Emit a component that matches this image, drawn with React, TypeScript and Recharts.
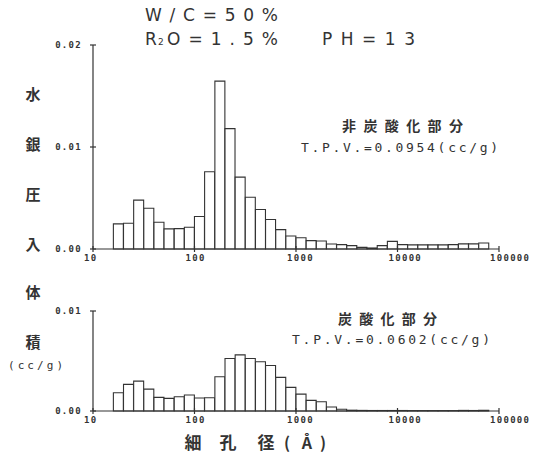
import { BarChart, Bar, XAxis, YAxis } from 'recharts'

// pore diameter bin centres (Å), 0.1-decade bins from ~16 Å to ~80000 Å
const poreSize = [
  17.8, 22.4, 28.2, 35.5, 44.7, 56.2, 70.8, 89.1, 112, 141, 178, 224, 282, 355, 447, 562, 708, 891,
  1122, 1413, 1778, 2239, 2818, 3548, 4467, 5623, 7079, 8913, 11220, 14125, 17783, 22387, 28184,
  35481, 44668, 56234, 70795,
]

// 非炭酸化部分 (cc/g)
const nonCarbonated = [
  0.00246, 0.00252, 0.00479, 0.004, 0.00262, 0.00197, 0.002, 0.00213, 0.00318, 0.00757, 0.01646,
  0.0118, 0.00705, 0.00508, 0.00387, 0.00289, 0.0019, 0.00128, 0.00111, 0.00082, 0.00079, 0.00049,
  0.00043, 0.00033, 0.00016, 0.0001, 0.00033, 0.00075, 0.00043, 0.0004, 0.0004, 0.0004, 0.0004,
  0.00043, 0.0005, 0.0005, 0.00059,
]

// 炭酸化部分 (cc/g)
const carbonated = [
  0.00183, 0.00266, 0.00299, 0.00219, 0.00136, 0.00126, 0.00143, 0.0016, 0.0013, 0.00133, 0.00342,
  0.00525, 0.00561, 0.00525, 0.00492, 0.00455, 0.00336, 0.00236, 0.00169, 0.00106, 0.00093, 0.0004,
  0.00017, 0.00008, 0.00006, 0.00005, 0.00005, 0.00005, 0.00005, 0.00004, 0.00004, 0.00004, 0.00004,
  0.00004, 0.00006, 0.00005, 0.00007,
]

const xTicks = [10, 100, 1000, 10000, 100000]
const topTicks = [0, 0.01, 0.02]
const bottomTicks = [0, 0.01]

const topData = poreSize.map((d, i) => ({ d, v: nonCarbonated[i] }))
const bottomData = poreSize.map((d, i) => ({ d, v: carbonated[i] }))

const INK = '#333'
const MONO = '"DejaVu Sans Mono", monospace'
const CJK = '"Noto Sans CJK JP", sans-serif'

function XTick({ x, y, payload }: any) {
  return (
    <g>
      <line x1={x} x2={x} y1={y - 3} y2={y + 3} stroke={INK} strokeWidth={1.2} />
      <text x={x - 9} y={y + 12} fontFamily={MONO} fontWeight="bold" fontSize={9} letterSpacing={1.3} fill={INK}>
        {payload.value}
      </text>
    </g>
  )
}

function YTick({ x, y, payload }: any) {
  return (
    <g>
      <line x1={x - 3} x2={x + 3} y1={y} y2={y} stroke={INK} strokeWidth={1.2} />
      <text x={x - 11} y={y + 3} textAnchor="end" fontFamily={MONO} fontWeight="bold" fontSize={9} letterSpacing={1.3} fill={INK}>
        {payload.value.toFixed(2)}
      </text>
    </g>
  )
}

function Histogram({ data, height, top, yMax, yTicks }: any) {
  return (
    <BarChart
      width={538}
      height={height}
      data={data}
      margin={{ top, right: 39, bottom: 1, left: 33 }}
      barCategoryGap={0}
      barGap={0}
    >
      <XAxis
        dataKey="d"
        type="number"
        scale="log"
        domain={[10, 100000]}
        ticks={xTicks}
        height={20}
        tickSize={0}
        tickMargin={0}
        tickLine={false}
        axisLine={{ stroke: INK, strokeWidth: 1.2 }}
        tick={<XTick />}
        interval={0}
        allowDataOverflow
      />
      <YAxis
        type="number"
        domain={[0, yMax]}
        ticks={yTicks}
        width={60}
        tickSize={0}
        tickMargin={0}
        tickLine={false}
        axisLine={{ stroke: INK, strokeWidth: 1.2 }}
        tick={<YTick />}
        interval={0}
      />
      <Bar dataKey="v" fill="#fff" stroke={INK} strokeWidth={1.1} isAnimationActive={false} />
    </BarChart>
  )
}

function Label({ x, y, w, size, family, weight, anchor, children }: any) {
  return (
    <text
      x={x}
      y={y}
      textLength={w}
      lengthAdjust={w ? 'spacing' : undefined}
      fontSize={size}
      fontFamily={family}
      fontWeight={weight || 'normal'}
      textAnchor={anchor || 'start'}
      fill={INK}
    >
      {children}
    </text>
  )
}

export default function App() {
  const sideLabels = [
    ['水', 100],
    ['銀', 150],
    ['圧', 200],
    ['入', 250],
    ['体', 298],
    ['積', 348],
  ]
  return (
    <div style={{ position: 'absolute', left: 0, top: 0, width: 538, height: 455, background: '#fff' }}>
      <div style={{ position: 'absolute', left: 0, top: 0 }}>
        <Histogram data={topData} height={270} top={45} yMax={0.02} yTicks={topTicks} />
      </div>
      <div style={{ position: 'absolute', left: 0, top: 290 }}>
        <Histogram data={bottomData} height={142} top={21} yMax={0.01} yTicks={bottomTicks} />
      </div>
      <svg width={538} height={455} style={{ position: 'absolute', left: 0, top: 0, pointerEvents: 'none' }}>
        <Label x={145} y={21} w={133} size={17} family='"DejaVu Sans", sans-serif'>W/C=50%</Label>
        <Label x={145} y={45} size={17} family='"DejaVu Sans", sans-serif'>R</Label>
        <Label x={158} y={45} size={9} family='"DejaVu Sans", sans-serif'>2</Label>
        <Label x={167} y={45} w={111} size={17} family='"DejaVu Sans", sans-serif'>O=1.5%</Label>
        <Label x={322} y={45} w={93} size={17} family='"DejaVu Sans", sans-serif'>PH=13</Label>

        {sideLabels.map(([t, y]) => (
          <Label key={t as string} x={33} y={(y as number) + 0} size={15} family={CJK} weight="bold" anchor="middle">
            {t}
          </Label>
        ))}
        <Label x={8} y={369} w={55} size={11} family={MONO}>(cc/g)</Label>

        <Label x={342} y={131} w={121} size={14} family={CJK} weight="bold">非炭酸化部分</Label>
        <Label x={301} y={152} w={197} size={13} family={MONO}>T.P.V.=0.0954(cc/g)</Label>
        <Label x={338} y={324} w={99} size={14} family={CJK} weight="bold">炭酸化部分</Label>
        <Label x={292} y={344} w={198} size={13} family={MONO}>T.P.V.=0.0602(cc/g)</Label>

        <Label x={193} y={449} size={17} family={CJK} weight="bold" anchor="middle">細</Label>
        <Label x={228} y={449} size={17} family={CJK} weight="bold" anchor="middle">孔</Label>
        <Label x={266} y={449} size={17} family={CJK} weight="bold" anchor="middle">径</Label>
        <Label x={287} y={449} size={16} family={CJK} weight="bold" anchor="middle">(</Label>
        <Label x={307} y={449} size={16} family={CJK} weight="bold" anchor="middle">Å</Label>
        <Label x={323} y={449} size={16} family={CJK} weight="bold" anchor="middle">)</Label>
      </svg>
    </div>
  )
}
